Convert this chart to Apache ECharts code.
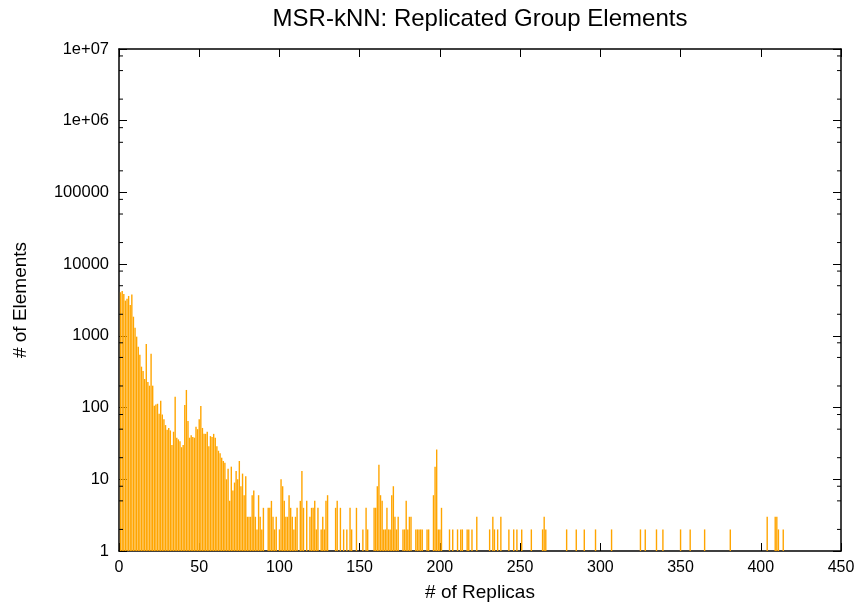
<!DOCTYPE html>
<html><head><meta charset="utf-8">
<script src="https://cdn.jsdelivr.net/npm/echarts@6/dist/echarts.min.js"></script>
<style>html,body{margin:0;padding:0;background:#fff}#c{width:860px;height:608px}</style>
</head><body><div id="c"></div>
<script>
// # of replicas (x) and # of elements (y)
const replicas = [1,2,3,4,5,6,7,8,9,10,11,12,13,14,15,16,17,18,19,20,
21,22,23,24,25,26,27,28,29,30,31,32,33,34,35,36,37,38,39,40,
41,42,43,44,45,46,47,48,49,50,51,52,53,54,55,56,57,58,59,60,
61,62,63,64,65,66,67,68,69,70,71,72,73,74,75,76,77,78,79,80,
81,82,83,84,85,86,87,88,89,90,93,94,95,96,97,98,100,
101,102,103,104,105,106,107,108,109,110,111,113,114,115,117,119,120,
121,122,123,124,126,127,128,129,130,135,136,138,140,142,144,145,148,
152,154,155,159,160,161,162,163,164,165,166,167,168,169,170,
171,172,173,174,177,178,179,180,181,182,185,186,187,188,189,192,193,196,197,198,199,200,
201,206,208,211,213,214,217,218,220,223,231,233,234,236,238,243,246,248,251,257,264,265,266,
279,285,290,297,307,325,328,335,339,350,356,365,381,404,409,410,411,414];
const elements = [4050,4230,3840,3100,3300,3600,2700,3760,1850,1300,975,707,547,372,324,250,771,228,202,565,
202,106,110,113,82,124,80,69,57,49,52,48,30,46,142,38,36,34,28,30,
109,176,65,38,41,39,38,54,50,69,105,52,43,43,46,29,40,39,43,38,
29,25,23,20,18,17,10,14,5,15,7,9,13,10,18,8,12,6,11,3,
3,3,6,7,3,2,6,3,2,4,4,4,5,3,2,3,2,
10,8,5,3,3,6,4,3,2,3,4,5,13,4,5,3,4,
4,5,2,4,2,3,2,5,6,4,5,4,2,2,4,2,4,
2,4,2,4,4,8,16,6,5,2,2,4,2,2,6,
8,3,2,3,2,2,5,2,3,3,2,2,2,2,2,2,2,6,15,26,2,2,
4,2,2,2,2,2,2,2,2,3,2,3,2,2,3,2,2,2,2,2,2,3,2,
2,2,2,2,2,2,2,2,2,2,2,2,2,3,3,3,2,2];
const xTickValues = [0,50,100,150,200,250,300,350,400,450];
const yTickLabels = {1:'1',10:'10',100:'100',1000:'1000',10000:'10000',100000:'100000',1000000:'1e+06',10000000:'1e+07'};
const yMinorTicks = [2,5,8,20,50,80,200,500,800,2000,5000,8000,20000,50000,80000,200000,500000,800000,2000000,5000000,8000000];

const FONT = 'Liberation Sans, Arial, Helvetica, sans-serif';
const chart = echarts.init(document.getElementById('c'), null, {renderer:'canvas'});
const axisLine = {show:true, onZero:false, lineStyle:{color:'#000', width:1.5}};
const tick = {show:true, inside:true, length:8, lineStyle:{color:'#000', width:1}};

chart.setOption({
  animation:false,
  backgroundColor:'#fff',
  title:{text:'MSR-kNN: Replicated Group Elements', left:'480', textAlign:'center', top:7, padding:0,
    textStyle:{fontFamily:FONT, fontSize:24, fontWeight:'normal', color:'#000'}},
  grid:{left:119, right:19, top:49, bottom:57},
  xAxis:[
    {type:'value', min:xTickValues[0], max:xTickValues[xTickValues.length-1], interval:50, position:'bottom',
     axisLine, axisTick:tick, splitLine:{show:false},
     axisLabel:{fontFamily:FONT, fontSize:16, color:'#000', margin:9},
     name:'# of Replicas', nameLocation:'middle', nameGap:32,
     nameTextStyle:{fontFamily:FONT, fontSize:19, color:'#000'}},
    {type:'value', min:xTickValues[0], max:xTickValues[xTickValues.length-1], interval:50, position:'top',
     axisLine, axisTick:tick, splitLine:{show:false}, axisLabel:{show:false}}
  ],
  yAxis:[
    {type:'log', logBase:10, min:1, max:1e7, interval:1, position:'left',
     axisLine, axisTick:tick, splitLine:{show:false}, minorTick:{show:false},
     axisLabel:{fontFamily:FONT, fontSize:16.5, color:'#000', margin:10,
       formatter:v=>{const r=Math.round(v); return yTickLabels[r]!==undefined?yTickLabels[r]:'';}},
     name:'# of Elements', nameLocation:'middle', nameGap:89, nameRotate:90,
     nameTextStyle:{fontFamily:FONT, fontSize:19, color:'#000'}},
    {type:'log', logBase:10, min:1, max:1e7, interval:1, position:'right',
     axisLine, axisTick:tick, splitLine:{show:false}, axisLabel:{show:false}}
  ],
  series:[{
    type:'bar', xAxisIndex:0, yAxisIndex:0, barWidth:1.4,
    itemStyle:{color:'#ffa500'},
    data: replicas.map((x,i)=>[x, elements[i]])
  }]
});

// minor log ticks (2, 5, 8 per decade) on left and right borders, placed via the axis scale
const xl = chart.convertToPixel({xAxisIndex:0}, xTickValues[0]);
const xr = chart.convertToPixel({xAxisIndex:0}, xTickValues[xTickValues.length-1]);
const g = [];
yMinorTicks.forEach(v=>{
  const y = chart.convertToPixel({yAxisIndex:0}, v);
  g.push({type:'line', shape:{x1:xl, y1:y, x2:xl+4, y2:y}, style:{stroke:'#000', lineWidth:1}, z:10});
  g.push({type:'line', shape:{x1:xr-4, y1:y, x2:xr, y2:y}, style:{stroke:'#000', lineWidth:1}, z:10});
});
chart.setOption({graphic:g});
</script></body></html>
